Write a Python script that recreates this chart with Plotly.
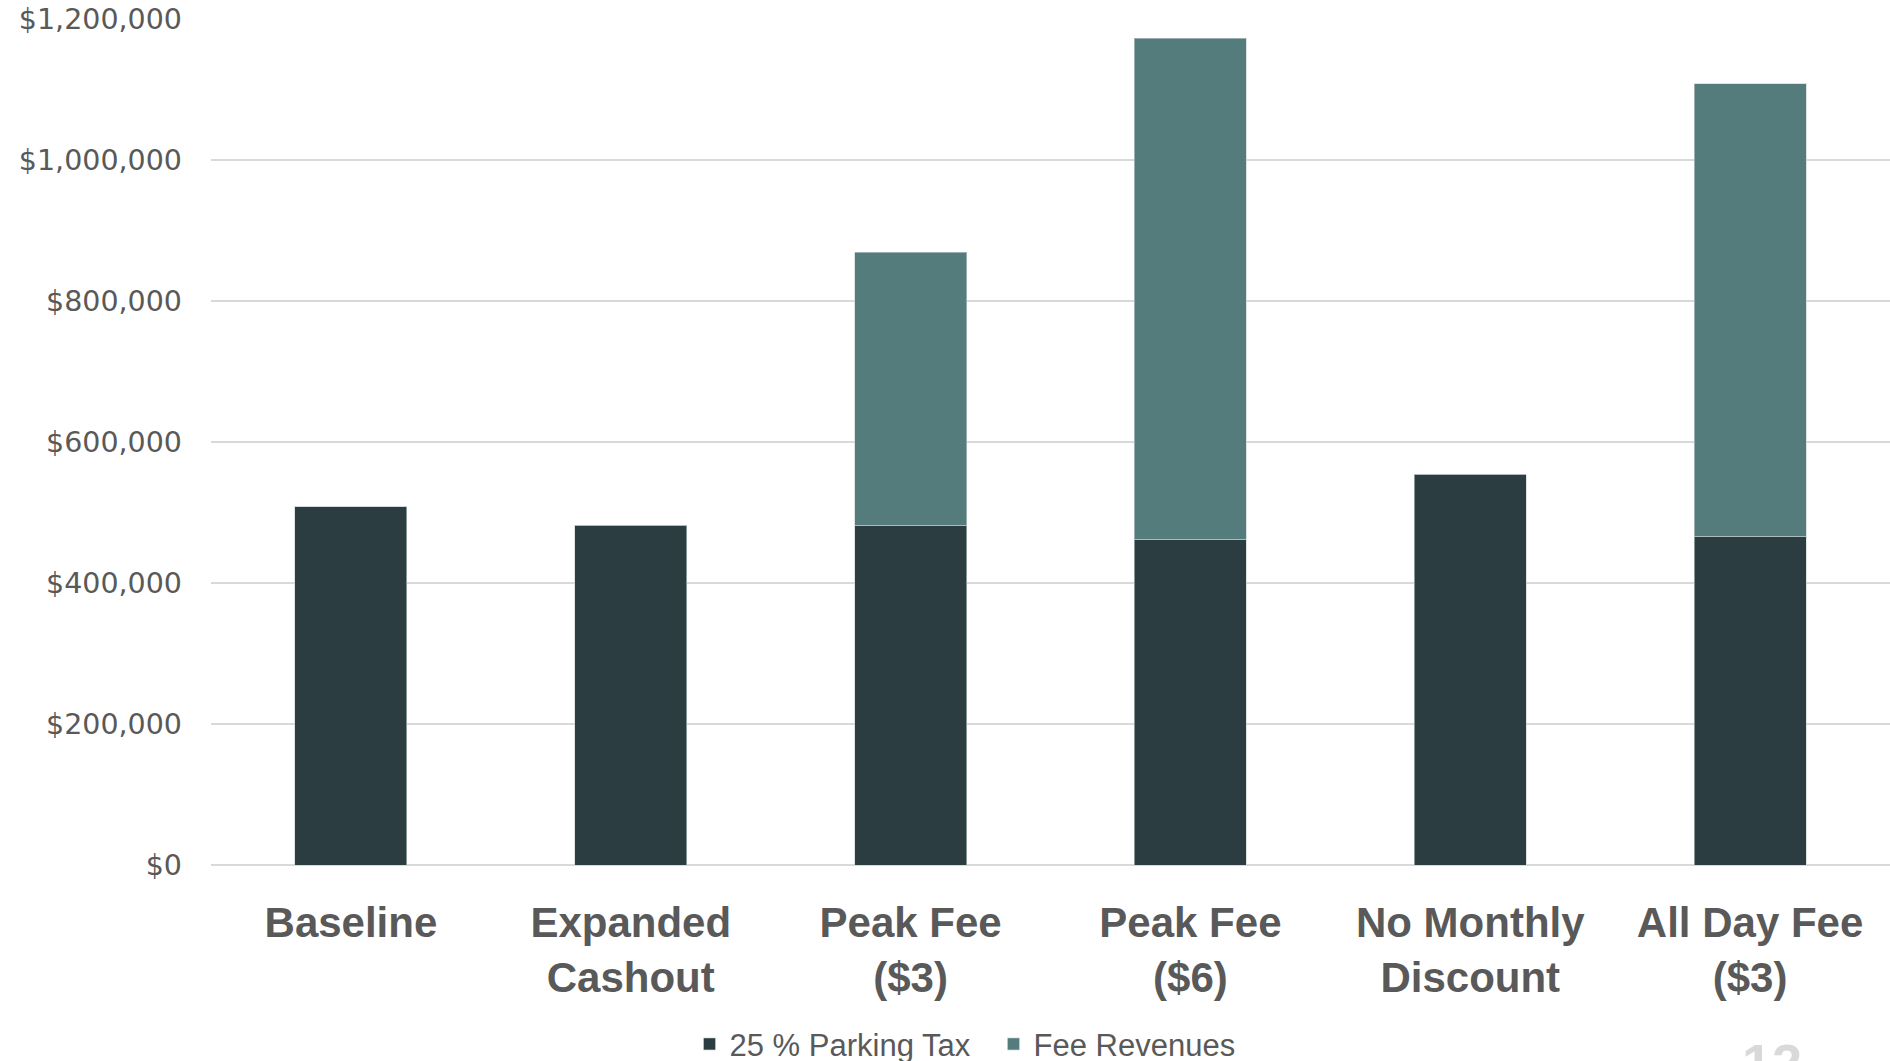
import plotly.graph_objects as go

categories = ["Baseline", "Expanded<br>Cashout", "Peak Fee<br>($3)", "Peak Fee<br>($6)",
              "No Monthly<br>Discount", "All Day Fee<br>($3)"]
parking_tax = [508000, 482000, 482000, 462000, 554000, 466000]
fee_revenues = [0, 0, 387000, 711000, 0, 642000]
series_names = ["25 % Parking Tax", "Fee Revenues"]
y_ticks = [0, 200000, 400000, 600000, 800000, 1000000, 1200000]
y_tick_labels = ["$0", "$200,000", "$400,000", "$600,000", "$800,000", "$1,000,000", "$1,200,000"]
page_number = "12"

dark = "#2B3D41"
teal = "#557C7D"
text_col = "#595959"

fig = go.Figure()
fig.add_trace(go.Bar(x=categories, y=parking_tax, name=series_names[0],
                     marker=dict(color=dark, line=dict(color="rgba(200,210,210,0.6)", width=1))))
fig.add_trace(go.Bar(x=categories, y=fee_revenues, name=series_names[1],
                     marker=dict(color=teal, line=dict(color="rgba(200,210,210,0.6)", width=1))))

fig.update_layout(
    barmode="stack",
    bargap=0.6,
    width=1890, height=1061,
    margin=dict(l=211, r=0, t=19, b=196, autoexpand=False),
    plot_bgcolor="white", paper_bgcolor="white",
    showlegend=True,
    legend=dict(orientation="h", x=0.285, xanchor="left", y=-0.180, yanchor="top",
                font=dict(family="Liberation Sans", size=31, color=text_col),
                entrywidth=259, entrywidthmode="pixels",
                traceorder="normal", bgcolor="rgba(0,0,0,0)"),
    xaxis=dict(tickfont=dict(family="Liberation Sans", size=42, color=text_col, weight="bold"),
               showgrid=False, showline=False, ticks="", ticklabelstandoff=29,
               automargin=False),
    yaxis=dict(range=[0, 1200000], tickmode="array", tickvals=y_ticks, ticktext=y_tick_labels,
               tickfont=dict(family="DejaVu Sans", size=28.5, color=text_col),
               showgrid=True, gridcolor="#d9d9d9", gridwidth=1.5,
               zeroline=True, zerolinecolor="#d9d9d9", zerolinewidth=1.5,
               showline=False, ticks="", ticklabelstandoff=28, automargin=False),
    annotations=[dict(text=page_number, xref="paper", yref="paper", x=0.930, y=-0.196,
                      xanchor="center", yanchor="top", showarrow=False,
                      font=dict(family="Liberation Sans", size=54, color="#d9d9d9", weight="bold"))],
)

fig.write_html("out.html")
